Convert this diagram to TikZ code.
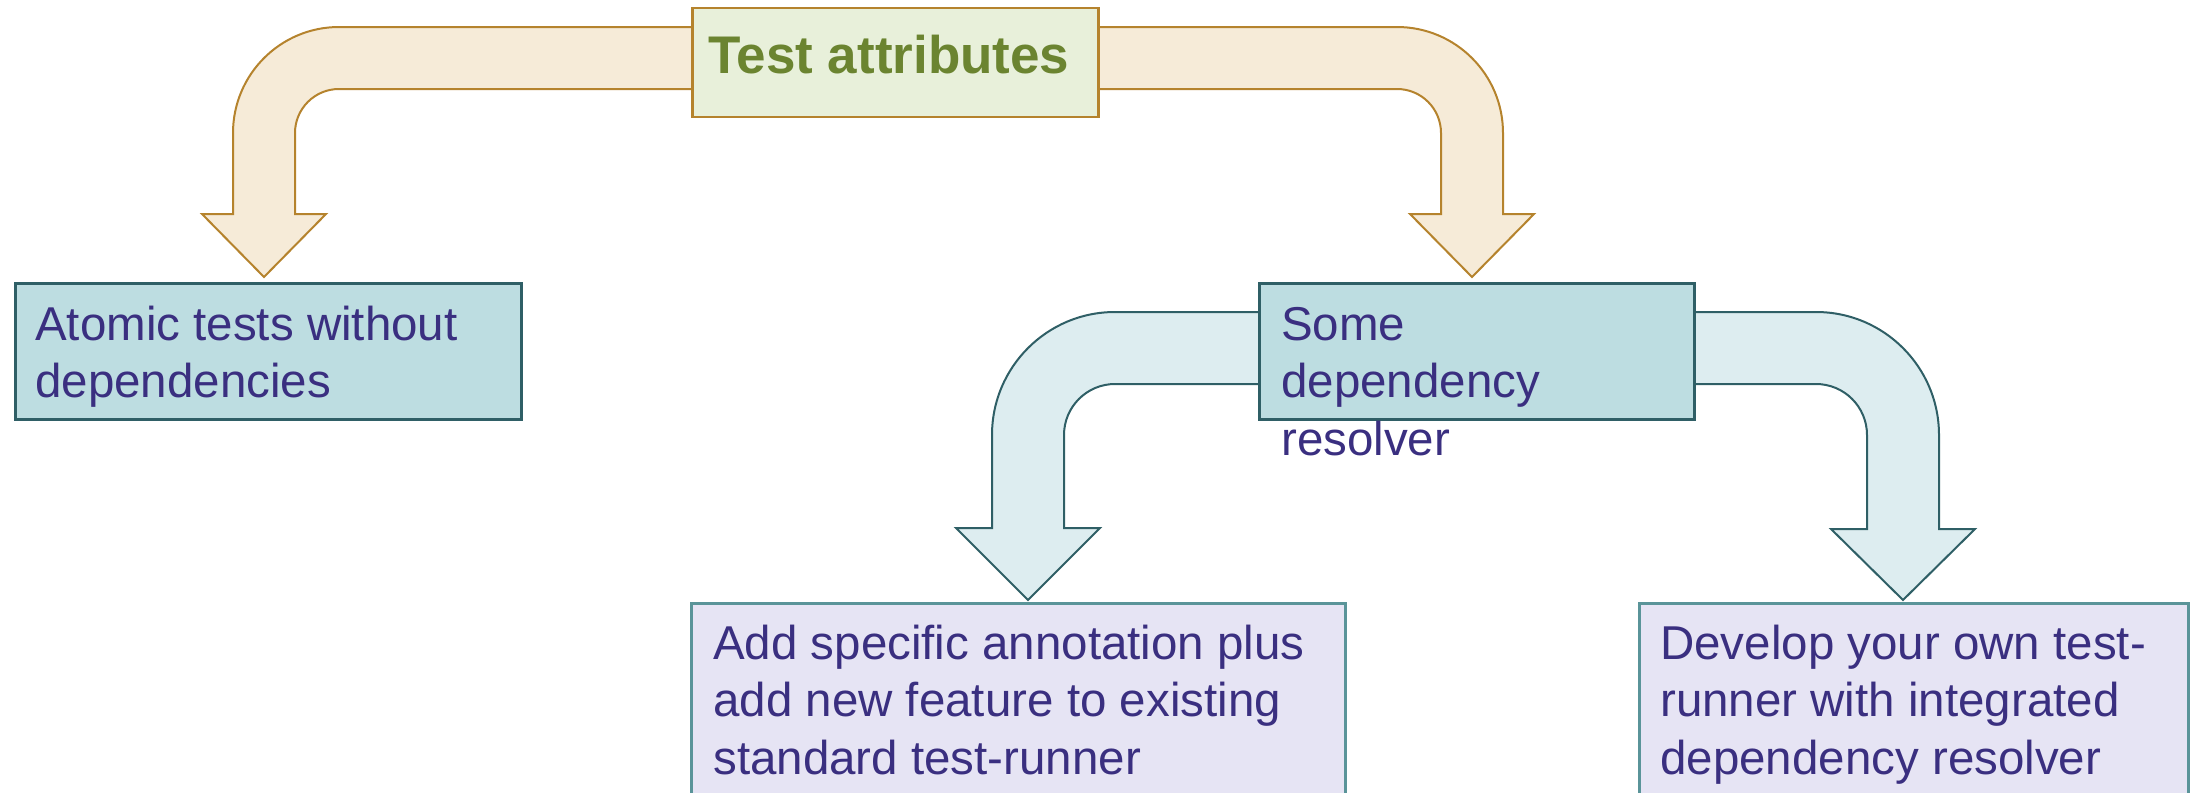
\documentclass[tikz,border=0pt]{standalone}
\usepackage{fontspec}
\setmainfont{Liberation Sans}
\usepackage{xcolor}
\usepackage{tikz}
\usetikzlibrary{backgrounds}

\definecolor{attrfill}{HTML}{E8F0DA}
\definecolor{attrtext}{HTML}{6B8430}
\definecolor{tanfill}{HTML}{F6EBD8}
\definecolor{tanline}{HTML}{B5832D}
\definecolor{tealfill}{HTML}{BDDDE1}
\definecolor{tealline}{HTML}{2F5F66}
\definecolor{palefill}{HTML}{DDEDF0}
\definecolor{lilacfill}{HTML}{E6E4F4}
\definecolor{lilacline}{HTML}{5A9499}
\definecolor{bodytext}{HTML}{3A2F80}

% width, height, left pad, first baseline, text
\newcommand{\boxtext}[5]{\parbox[c][#2][t]{#1}{\raggedright\leftskip=#3\relax\rule{0pt}{#4}#5}}

\begin{document}
\begin{tikzpicture}[x=0.1mm, y=-0.1mm,
    box/.style={draw, line width=0.25mm, inner sep=0pt, anchor=north west,
      text=bodytext, font=\fontsize{4.75mm}{5.75mm}\selectfont},
    tanarrow/.style={draw=tanline, fill=tanfill, line width=0.2mm},
    palearrow/.style={draw=tealline, fill=palefill, line width=0.2mm}]
  \path[use as bounding box, clip] (0,0) rectangle (2200,793);

  % Top
  \node[box, fill=attrfill, draw=tanline, text=attrtext,
    font=\fontsize{5.3mm}{6.4mm}\selectfont\bfseries] (attr) at (691,7)
    {\boxtext{40.6mm}{10.9mm}{1.6mm}{6.5mm}{Test attributes}};

  % Second row
  \node[box, fill=tealfill, draw=tealline] (atomic) at (14,282)
    {\boxtext{50.6mm}{13.6mm}{2mm}{5.7mm}{Atomic tests without\\dependencies}};
  \node[box, fill=tealfill, draw=tealline] (dep) at (1258,282)
    {\boxtext{43.5mm}{13.6mm}{2.2mm}{5.7mm}{Some\\dependency\\resolver}};

  % Third row
  \node[box, fill=lilacfill, draw=lilacline] (annot) at (690,602)
    {\boxtext{65.4mm}{25mm}{2.2mm}{5.6mm}{Add specific annotation plus\\add new feature to existing\\standard test-runner}};
  \node[box, fill=lilacfill, draw=lilacline] (runner) at (1638,602)
    {\boxtext{54.9mm}{25mm}{2.1mm}{5.6mm}{Develop your own test-\\runner with integrated\\dependency resolver}};

  % Arrow tips
  \coordinate (tipatomic) at (264,277);
  \coordinate (tipdep) at (1472,277);
  \coordinate (tipannot) at (1028,600);
  \coordinate (tiprunner) at (1903,600);

  \begin{scope}[on background layer]
    % Test attributes -> atomic tests
    \draw[tanarrow] (attr.west |- 0,27) -- (339,27)
      arc[start angle=270, end angle=180, radius=106] -- (233,214) -- (202,214)
      -- (tipatomic) -- (326,214) -- (295,214) -- (295,133)
      arc[start angle=180, end angle=270, radius=44] -- (attr.west |- 0,89);
    % Test attributes -> dependency resolver
    \draw[tanarrow] (attr.east |- 0,27) -- (1397,27)
      arc[start angle=270, end angle=360, radius=106] -- (1503,214) -- (1534,214)
      -- (tipdep) -- (1410,214) -- (1441,214) -- (1441,133)
      arc[start angle=0, end angle=-90, radius=44] -- (attr.east |- 0,89);

    % dependency resolver -> annotation
    \draw[palearrow] (dep.west |- 0,312) -- (1115,312)
      arc[start angle=270, end angle=180, radius=123] -- (992,528) -- (956,528)
      -- (tipannot) -- (1100,528) -- (1064,528) -- (1064,435)
      arc[start angle=180, end angle=270, radius=51] -- (dep.west |- 0,384);
    % dependency resolver -> own test-runner
    \draw[palearrow] (dep.east |- 0,312) -- (1816,312)
      arc[start angle=270, end angle=360, radius=123] -- (1939,529) -- (1975,529)
      -- (tiprunner) -- (1831,529) -- (1867,529) -- (1867,435)
      arc[start angle=0, end angle=-90, radius=51] -- (dep.east |- 0,384);
  \end{scope}
\end{tikzpicture}
\end{document}
